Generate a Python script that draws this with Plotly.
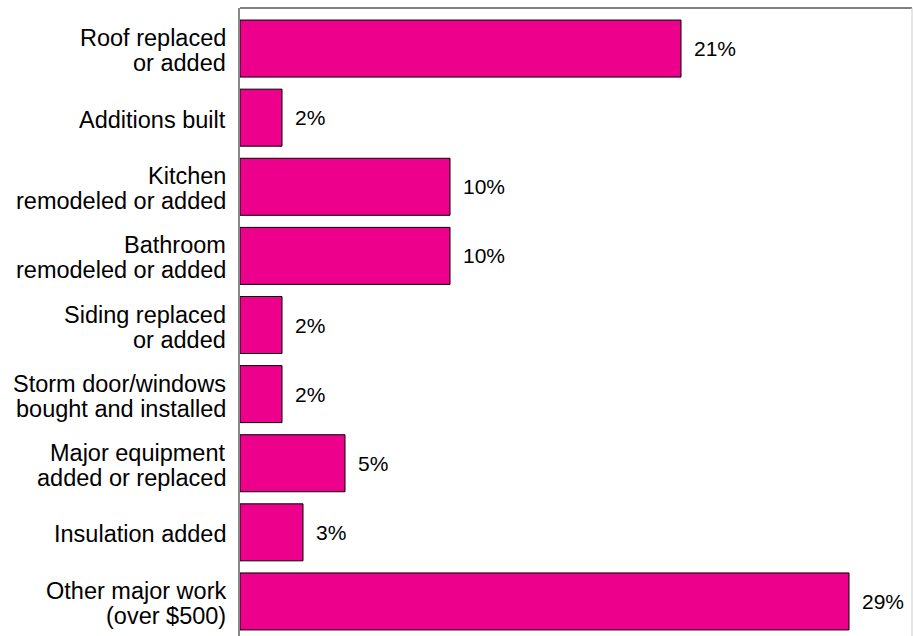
import plotly.graph_objects as go

categories = [
    "Roof replaced<br>or added",
    "Additions built",
    "Kitchen<br>remodeled or added",
    "Bathroom<br>remodeled or added",
    "Siding replaced<br>or added",
    "Storm door/windows<br>bought and installed",
    "Major equipment<br>added or replaced",
    "Insulation added",
    "Other major work<br>(over $500)",
]
values = [21, 2, 10, 10, 2, 2, 5, 3, 29]
value_labels = ["21%", "2%", "10%", "10%", "2%", "2%", "5%", "3%", "29%"]

FONT = "Liberation Sans, Arial, sans-serif"
TICK_SIZE = 23.5
LINE_GAP = 25

fig = go.Figure()
fig.add_trace(go.Bar(
    x=values,
    y=categories,
    orientation="h",
    marker=dict(color="#EC008C", line=dict(color="#000000", width=1)),
    hoverinfo="skip",
))

# value labels
for c, v, t in zip(categories, values, value_labels):
    fig.add_annotation(
        x=v, y=c, text=t, showarrow=False, xanchor="left", yanchor="middle",
        xshift=11, yshift=0, font=dict(family=FONT, size=21, color="#000000"),
    )

# category labels (one annotation per line, tighter line spacing)
for c in categories:
    lines = c.split("<br>")
    n = len(lines)
    for i, ln in enumerate(lines):
        offset = (i - (n - 1) / 2) * LINE_GAP + 2
        fig.add_annotation(
            x=0, xref="paper", y=c, yref="y", text=ln, showarrow=False,
            xanchor="right", yanchor="middle", xshift=-12, yshift=-offset,
            font=dict(family=FONT, size=TICK_SIZE, color="#000000"),
        )

fig.update_layout(
    width=913, height=636,
    margin=dict(l=240, r=1, t=8, b=0),
    plot_bgcolor="white", paper_bgcolor="white",
    bargap=0.175,
    showlegend=False,
    xaxis=dict(range=[0, 32], showgrid=False, zeroline=False, showticklabels=False,
               showline=False, ticks=""),
    yaxis=dict(type="category", range=[8.5, -0.587], showgrid=False, zeroline=False,
               showline=True, linecolor="#888888", linewidth=1.5, ticks="",
               showticklabels=False),
    shapes=[
        dict(type="line", xref="paper", yref="paper", x0=0, x1=1, y0=1, y1=1,
             line=dict(color="#555555", width=1.5)),
        dict(type="line", xref="paper", yref="paper", x0=1, x1=1, y0=0, y1=1,
             line=dict(color="#cccccc", width=1)),
    ],
)

fig.write_html("out.html")
